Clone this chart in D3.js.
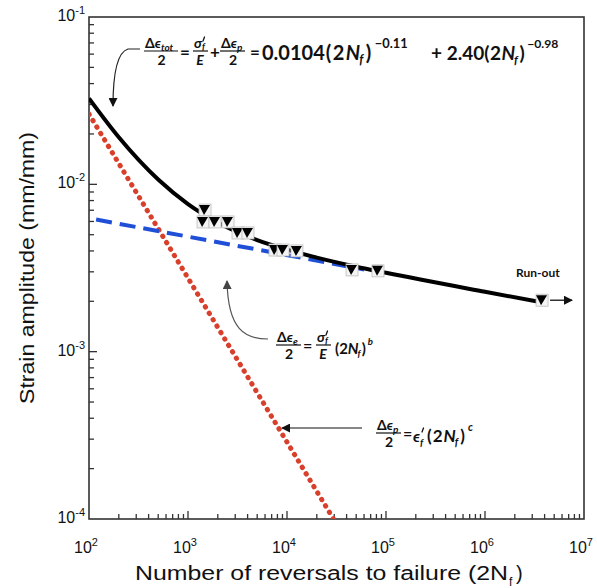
<!DOCTYPE html>
<html><head><meta charset="utf-8">
<script src="https://cdn.jsdelivr.net/npm/d3@7"></script>
<style>
body{margin:0;background:#fff;}
svg{display:block;}
.eq{font-family:Lato,"Open Sans",sans-serif;font-weight:700;fill:#111;}
.ax{font-family:"Liberation Sans",Arial,sans-serif;fill:#111;}
</style></head>
<body><svg id="c" width="597" height="588"></svg>
<script>
// ---- data ----
const xDecades = [2, 3, 4, 5, 6, 7];          // 10^k tick labels on x
const yDecades = [-1, -2, -3, -4];            // 10^k tick labels on y
const totalN = [100, 200, 500, 1000, 2000, 5000, 10000, 20000, 50000, 100000, 1000000, 3600000];
const totalStrain = [0.0326, 0.0191, 0.01068, 0.00762, 0.00591, 0.00464, 0.00407, 0.00365, 0.00322, 0.00296, 0.00228, 0.00198];
const elasticN = [118, 60000];
const elasticStrain = [0.00616, 0.0031];
const plasticN = [100, 29450];
const plasticStrain = [0.0263, 0.0001];
const testN = [1486, 1419, 1875, 2535, 3200, 4035, 7570, 9120, 12600, 45400, 83000];
const testStrain = [0.00702, 0.00596, 0.00596, 0.00596, 0.00512, 0.00512, 0.00405, 0.00405, 0.00400, 0.00308, 0.00304];
const runoutN = [3770000];
const runoutStrain = [0.00203];

const svg = d3.select("#c");
const L = 89, R = 584, T = 17, B = 519;
const x = d3.scaleLog().domain([1e2, 1e7]).range([L, R]);
const y = d3.scaleLog().domain([1e-4, 1e-1]).range([B, T]);

const defs = svg.append("defs");
defs.append("clipPath").attr("id", "clip").append("rect").attr("x", L).attr("y", T).attr("width", R - L).attr("height", B - T);
function arrowMarker(id, col) {
  defs.append("marker").attr("id", id).attr("viewBox", "0 0 10 10").attr("refX", 9).attr("refY", 5)
    .attr("markerWidth", 9).attr("markerHeight", 9).attr("markerUnits", "userSpaceOnUse").attr("orient", "auto")
    .append("path").attr("d", "M0,0 L10,5 L0,10 Z").attr("fill", col);
}
arrowMarker("ah", "#111");
arrowMarker("ahg", "#444");

// ---- ticks ----
const g = svg.append("g");
for (let k = 2; k < 7; k++) {
  for (let m = 1; m <= 9; m++) {
    const v = m * Math.pow(10, k);
    const len = m === 1 ? 8 : 5;
    if (m === 1 && k === 2) continue;
    g.append("line").attr("x1", x(v)).attr("x2", x(v)).attr("y1", B).attr("y2", B - len).attr("stroke", "#333").attr("stroke-width", 1.3);
  }
}
for (let k = -4; k < -1; k++) {
  for (let m = 1; m <= 9; m++) {
    const v = m * Math.pow(10, k);
    const len = m === 1 ? 8 : 5;
    if (m === 1 && k === -4) continue;
    g.append("line").attr("y1", y(v)).attr("y2", y(v)).attr("x1", L).attr("x2", L + len).attr("stroke", "#333").attr("stroke-width", 1.3);
  }
}
g.append("rect").attr("x", L).attr("y", T).attr("width", R - L).attr("height", B - T)
  .attr("fill", "none").attr("stroke", "#333").attr("stroke-width", 1.6);

// tick labels
xDecades.forEach(k => {
  const t = svg.append("text").attr("class", "ax").attr("x", x(Math.pow(10, k)) - 3).attr("y", 553)
    .attr("text-anchor", "middle").attr("font-size", 16);
  t.append("tspan").text("10");
  t.append("tspan").attr("dy", -7).attr("font-size", 11).text(k);
});
yDecades.forEach(k => {
  const t = svg.append("text").attr("class", "ax").attr("x", L - 4).attr("y", y(Math.pow(10, k)) + 4)
    .attr("text-anchor", "end").attr("font-size", 16);
  t.append("tspan").text("10");
  t.append("tspan").attr("dy", -7).attr("font-size", 11).text("-" + Math.abs(k));
});

// axis titles
svg.append("text").attr("class", "ax").attr("x", 135).attr("y", 580).attr("font-size", 20)
  .attr("textLength", 373).attr("lengthAdjust", "spacingAndGlyphs").text("Number of reversals to failure (2N");
svg.append("text").attr("class", "ax").attr("x", 509).attr("y", 586).attr("font-size", 12).text("f");
svg.append("text").attr("class", "ax").attr("x", 516).attr("y", 580).attr("font-size", 20).text(")");
svg.append("text").attr("class", "ax").attr("transform", "translate(34,268) rotate(-90)")
  .attr("text-anchor", "middle").attr("font-size", 20).attr("textLength", 272).attr("lengthAdjust", "spacingAndGlyphs")
  .text("Strain amplitude (mm/mm)");

// ---- curves ----
const pg = svg.append("g").attr("clip-path", "url(#clip)");
const line = d3.line().x(d => x(d[0])).y(d => y(d[1]));
pg.append("path").datum(plasticN.map((n, i) => [n, plasticStrain[i]])).attr("d", line)
  .attr("fill", "none").attr("stroke", "#d8402c").attr("stroke-width", 5).attr("stroke-linecap", "round")
  .attr("stroke-dasharray", "0.5,7");
pg.append("path").datum(elasticN.map((n, i) => [n, elasticStrain[i]])).attr("d", line)
  .attr("fill", "none").attr("stroke", "#1f4fd6").attr("stroke-width", 4).attr("stroke-dasharray", "16,8");
pg.append("path").datum(totalN.map((n, i) => [n, totalStrain[i]]))
  .attr("d", d3.line().x(d => x(d[0])).y(d => y(d[1])).curve(d3.curveMonotoneX))
  .attr("fill", "none").attr("stroke", "#000").attr("stroke-width", 4);

// ---- markers ----
function marker(n, s) {
  const cx = x(n), cy = y(s);
  const mg = svg.append("g").attr("transform", `translate(${cx},${cy})`);
  mg.append("rect").attr("x", -6).attr("y", -6).attr("width", 12).attr("height", 12)
    .attr("fill", "#f4f4f4").attr("stroke", "#bbb").attr("stroke-width", 0.8);
  mg.append("path").attr("d", "M-6,-5 L5,-5 L-1,5 Z").attr("fill", "#000");
}
testN.forEach((n, i) => marker(n, testStrain[i]));
runoutN.forEach((n, i) => {
  marker(n, runoutStrain[i]);
  svg.append("line").attr("x1", x(n) + 8).attr("x2", x(n) + 30).attr("y1", y(runoutStrain[i])).attr("y2", y(runoutStrain[i]))
    .attr("stroke", "#111").attr("stroke-width", 1.3).attr("marker-end", "url(#ah)");
});
svg.append("text").attr("class", "eq").attr("x", 516).attr("y", 277).attr("font-size", 12).text("Run-out");

// ---- equation helpers (each piece its own text) ----
function T_(xp, yp, fs, s, opt = {}) {
  return svg.append("text").attr("class", "eq").attr("x", xp).attr("y", yp).attr("font-size", fs)
    .attr("font-style", opt.it ? "italic" : null).attr("text-anchor", opt.anchor || "start").text(s);
}
function bar(x1, x2, yb) {
  svg.append("line").attr("x1", x1).attr("x2", x2).attr("y1", yb).attr("y2", yb).attr("stroke", "#111").attr("stroke-width", 1.2);
}
function prime(xp, yp) {
  svg.append("line").attr("x1", xp + 1.5).attr("y1", yp - 4).attr("x2", xp).attr("y2", yp)
    .attr("stroke", "#111").attr("stroke-width", 1.3).attr("stroke-linecap", "round");
}
// sequential layout: pieces = [text, size, italic, baselineShift, gapAfter]
function flow(x0, yp, pieces) {
  let cx = x0;
  pieces.forEach(p => {
    const t = T_(cx, yp + (p[3] || 0), p[1], p[0], { it: p[2] });
    cx += t.node().getComputedTextLength() + (p[4] || 0);
  });
  return cx;
}
function dEpsFrac(x0, yb, sub, w) {
  flow(x0, yb - 3, [["Δ", 14, 0, 0, 0], ["ϵ", 14, 1, 0, 0], [sub, 10, 1, 3, 0]]);
  bar(x0 - 1, x0 + w, yb);
  T_(x0 + w / 2, yb + 14, 14, "2", { anchor: "middle" });
}
function sigFrac(x0, yb) {
  T_(x0, yb - 3, 14, "σ", { it: 1 });
  prime(x0 + 9, yb - 10);
  T_(x0 + 8, yb - 1, 9, "f", { it: 1 });
  bar(x0 - 1, x0 + 14, yb);
  T_(x0 + 6, yb + 14, 14, "E", { it: 1, anchor: "middle" });
}
const twoNf = (fs, sup, gp) => [["(", fs, 0, 0, gp], ["2", fs, 0, 0, gp], ["N", fs, 1, 0, -1], ["f", fs * 0.62, 1, fs * 0.22, 1 + gp],
  [")", fs, 0, 0, 2 + gp], [sup, fs * 0.64, sup.length === 1 ? 1 : 0, -fs * 0.62, 0]];

// top equation
dEpsFrac(145, 51, "tot", 33);
T_(180, 58, 17, "=");
sigFrac(194, 51);
T_(210, 58, 17, "+");
dEpsFrac(221, 51, "p", 24);
T_(250, 58, 17, "=");
flow(262, 60, [["0.0104", 20, 0, 0, 1]].concat(twoNf(20, "−0.11", 1.5)));
flow(431, 60, [["+ 2.40", 19, 0, 0, 0]].concat(twoNf(19, "−0.98", 0.5)));

// middle equation
dEpsFrac(277, 345, "e", 24);
T_(303, 351, 16, "=");
sigFrac(317, 345);
flow(335, 354, twoNf(15, "b", 0));

// bottom equation
dEpsFrac(377, 433, "p", 24);
T_(403, 439, 16, "=");
T_(413, 442, 16, "ϵ", { it: 1 });
prime(422, 432);
T_(420, 446, 10, "f", { it: 1 });
flow(427, 442, twoNf(17, "c", 1));

// annotation arrows
svg.append("path").attr("d", "M140,49 L128,49 C118,52 113,70 113,106")
  .attr("fill", "none").attr("stroke", "#222").attr("stroke-width", 1.2).attr("marker-end", "url(#ah)");
svg.append("path").attr("d", "M268,339 C245,339 228,330 227,281")
  .attr("fill", "none").attr("stroke", "#555").attr("stroke-width", 1.2).attr("marker-end", "url(#ahg)");
svg.append("line").attr("x1", 362).attr("x2", 282).attr("y1", 428).attr("y2", 428)
  .attr("stroke", "#111").attr("stroke-width", 1.2).attr("marker-end", "url(#ah)");
</script></body></html>
